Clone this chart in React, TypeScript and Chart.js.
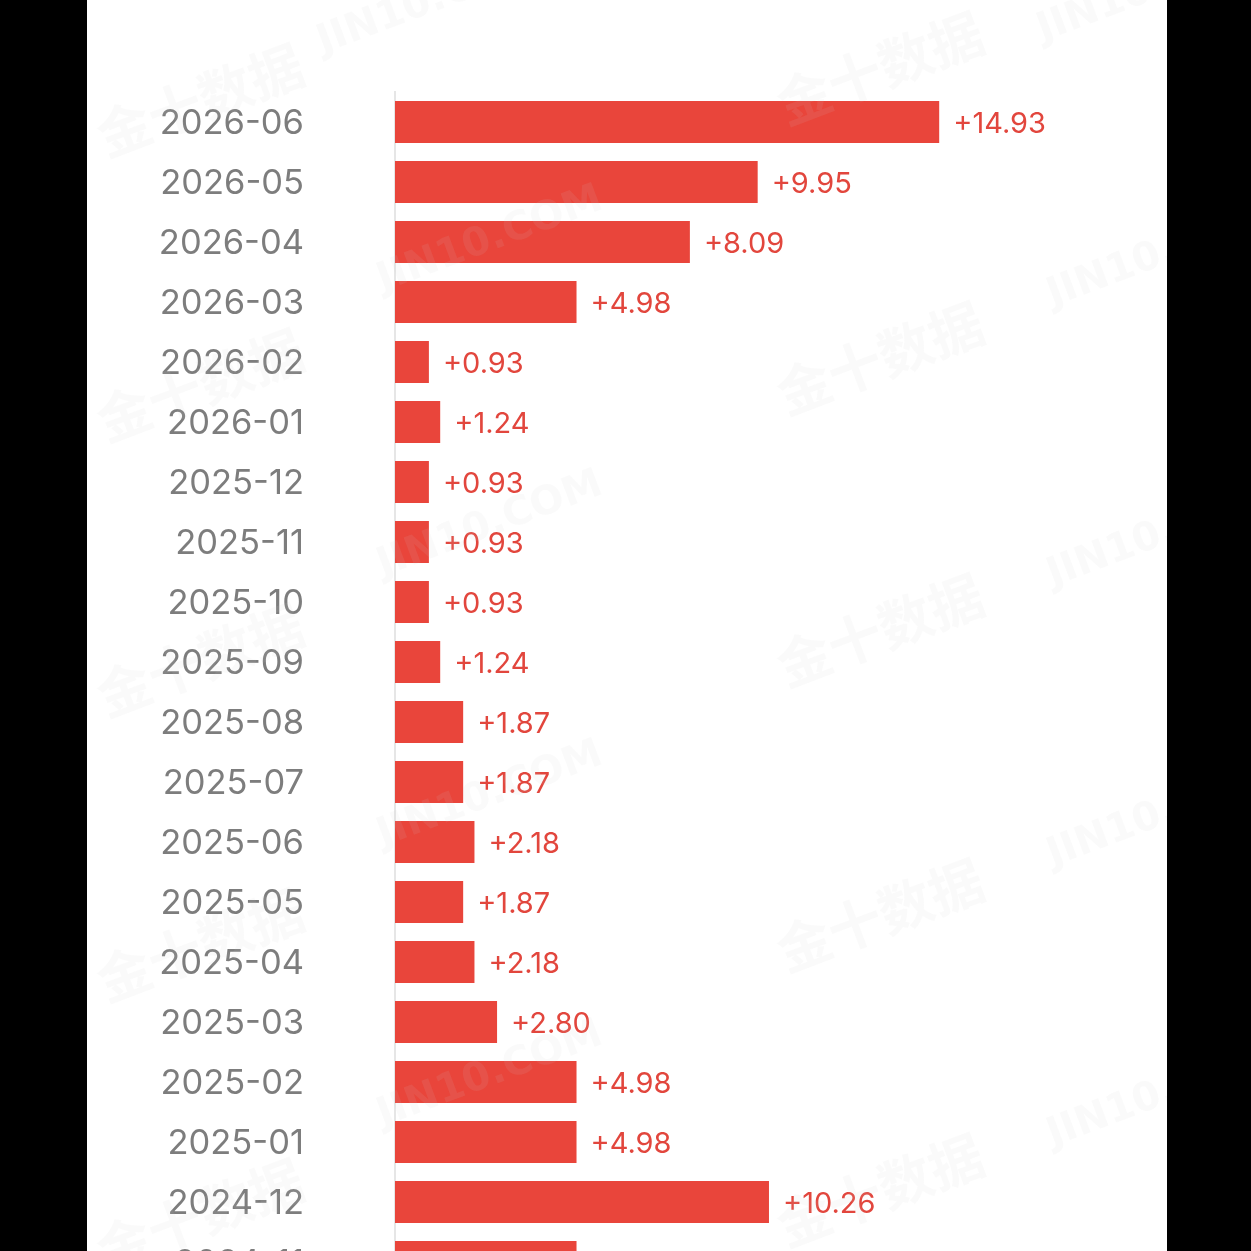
import { useEffect, useRef } from 'react';
import { Chart, registerables } from 'chart.js';

Chart.register(...registerables);

const categories: string[] = [
  '2026-06', '2026-05', '2026-04', '2026-03', '2026-02', '2026-01',
  '2025-12', '2025-11', '2025-10', '2025-09', '2025-08', '2025-07',
  '2025-06', '2025-05', '2025-04', '2025-03', '2025-02', '2025-01',
  '2024-12', '2024-11',
];

const values: number[] = [
  14.93, 9.95, 8.09, 4.98, 0.93, 1.24,
  0.93, 0.93, 0.93, 1.24, 1.87, 1.87,
  2.18, 1.87, 2.18, 2.80, 4.98, 4.98,
  10.26, 4.98,
];

const watermarkCn = '金十数据';
const watermarkEn = 'JIN10.COM';

const FONT = 'Inter, "Noto Sans", Roboto, sans-serif';
const BAR_COLOR = '#E9453B';
const LABEL_RED = '#E2463D';
const OFFSET_X = 87;

const valueLabelPlugin = {
  id: 'valueLabels',
  afterDatasetsDraw(chart: any) {
    const ctx = chart.ctx;
    const meta = chart.getDatasetMeta(0);
    ctx.save();
    ctx.font = `29px ${FONT}`;
    ctx.fillStyle = LABEL_RED;
    ctx.textAlign = 'left';
    ctx.textBaseline = 'middle';
    meta.data.forEach((bar: any, i: number) => {
      const v = chart.data.datasets[0].data[i] as number;
      ctx.fillText(`+${v.toFixed(2)}`, bar.x + 14, bar.y + 2);
    });
    ctx.restore();
  },
};

const watermarkPlugin = {
  id: 'watermark',
  afterDraw(chart: any) {
    const ctx = chart.ctx;
    ctx.save();
    ctx.fillStyle = 'rgba(210,210,210,0.1)';
    ctx.textAlign = 'center';
    ctx.textBaseline = 'middle';
    const cnSpots = [
      [200, 100], [200, 385], [200, 660], [200, 945], [200, 1215],
      [880, 68], [880, 358], [880, 630], [880, 915], [880, 1190],
    ];
    const enSpots = [
      [490, 240], [490, 525], [490, 795], [490, 1075], [430, 2],
      [1160, 255], [1160, 535], [1160, 815], [1160, 1095], [1150, -10],
    ];
    ctx.font = `bold 54px "Noto Sans CJK SC", sans-serif`;
    cnSpots.forEach(([x, y]) => {
      ctx.save();
      ctx.translate(x - OFFSET_X, y);
      ctx.rotate(-0.36);
      ctx.fillText(watermarkCn, 0, 0);
      ctx.restore();
    });
    ctx.font = `bold 40px "DejaVu Sans", sans-serif`;
    enSpots.forEach(([x, y]) => {
      ctx.save();
      ctx.translate(x - OFFSET_X, y);
      ctx.rotate(-0.36);
      ctx.fillText(watermarkEn, 0, 0);
      ctx.restore();
    });
    ctx.restore();
  },
};

export default function App() {
  const ref = useRef<HTMLCanvasElement | null>(null);

  useEffect(() => {
    if (!ref.current) return;
    const chart = new Chart(ref.current, {
      type: 'bar',
      data: {
        labels: categories,
        datasets: [
          {
            data: values,
            backgroundColor: BAR_COLOR,
            borderWidth: 0,
            categoryPercentage: 1,
            barPercentage: 0.7,
          },
        ],
      },
      options: {
        indexAxis: 'y',
        responsive: false,
        animation: false,
        devicePixelRatio: 1,
        layout: { padding: { top: 92, right: 43, bottom: 8, left: 0 } },
        plugins: {
          legend: { display: false },
          tooltip: { enabled: false },
        },
        scales: {
          x: {
            display: false,
            min: 0,
            max: 20,
          },
          y: {
            afterFit: (scale: any) => {
              scale.width = 308;
              scale.paddingTop = 0;
              scale.paddingBottom = 0;
            },
            grid: { display: false, drawTicks: false },
            border: { display: true, color: '#E6E6E6', width: 2 },
            ticks: {
              color: '#7D7D7D',
              font: { family: FONT, size: 34.5 },
              padding: 91,
              labelOffset: 2,
            },
          },
        },
      },
      plugins: [valueLabelPlugin, watermarkPlugin],
    });
    return () => chart.destroy();
  }, []);

  return (
    <div
      style={{
        position: 'fixed',
        left: 0,
        top: 0,
        width: 1251,
        height: 1251,
        background: '#000',
        overflow: 'hidden',
      }}
    >
      <div
        style={{
          position: 'absolute',
          left: OFFSET_X,
          top: 0,
          width: 1080,
          height: 1251,
          background: '#fff',
          overflow: 'hidden',
        }}
      >
        <canvas ref={ref} width={1080} height={1300} style={{ display: 'block' }} />
      </div>
    </div>
  );
}
